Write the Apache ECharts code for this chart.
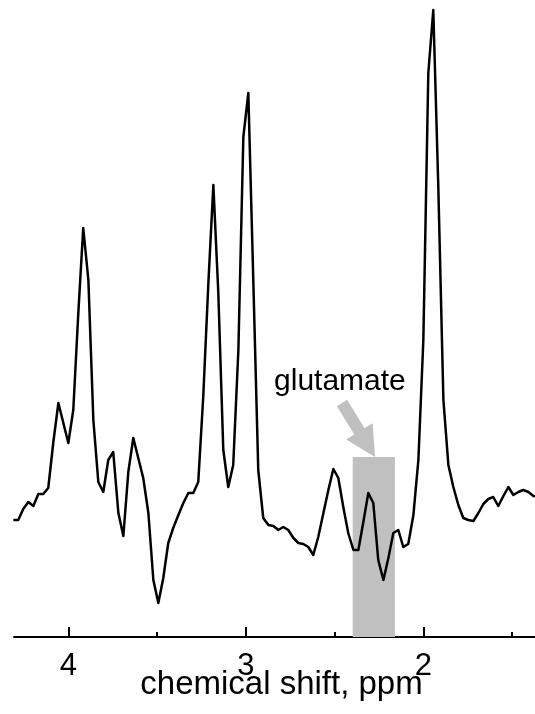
<!DOCTYPE html>
<html>
<head>
<meta charset="utf-8">
<script src="https://cdn.jsdelivr.net/npm/echarts@6/dist/echarts.min.js"></script>
<style>
  html, body { margin: 0; padding: 0; background: #ffffff; }
  #chart { width: 535px; height: 714px; }
</style>
</head>
<body>
<div id="chart"></div>
<script>
// chemical shift (ppm) of each sample
const ppm = [
  4.310, 4.282, 4.254, 4.225, 4.197, 4.169, 4.141, 4.113, 4.085, 4.056,
  4.028, 4.000, 3.972, 3.944, 3.916, 3.887, 3.859, 3.831, 3.803, 3.775,
  3.747, 3.718, 3.690, 3.662, 3.634, 3.606, 3.578, 3.549, 3.521, 3.493,
  3.465, 3.437, 3.409, 3.380, 3.352, 3.324, 3.296, 3.268, 3.240, 3.211,
  3.183, 3.155, 3.127, 3.099, 3.071, 3.042, 3.014, 2.986, 2.958, 2.930,
  2.902, 2.873, 2.845, 2.817, 2.789, 2.761, 2.732, 2.704, 2.676, 2.648,
  2.620, 2.592, 2.563, 2.535, 2.507, 2.479, 2.451, 2.423, 2.394, 2.366,
  2.338, 2.310, 2.282, 2.254, 2.225, 2.197, 2.169, 2.141, 2.113, 2.085,
  2.056, 2.028, 2.000, 1.972, 1.944, 1.916, 1.887, 1.859, 1.831, 1.803,
  1.775, 1.747, 1.718, 1.690, 1.662, 1.634, 1.606, 1.578, 1.549, 1.521,
  1.493, 1.465, 1.437, 1.408, 1.380, 1.352
];
// signal intensity (arbitrary units)
const intensity = [
  117, 117, 128, 135, 131, 143, 143, 149, 194, 234,
  214, 194, 227, 323, 409, 357, 217, 155, 145, 177,
  185, 124, 101, 165, 199, 179, 159, 124, 57, 34,
  59, 94, 109, 122, 134, 144, 144, 155, 240, 354,
  452, 344, 187, 150, 172, 287, 500, 544, 357, 167,
  119, 112, 111, 107, 110, 107, 99, 94, 93, 90,
  82, 100, 124, 147, 168, 159, 130, 104, 87, 87,
  115, 144, 134, 77, 57, 79, 104, 107, 90, 93,
  122, 177, 297, 564, 627, 452, 237, 172, 150, 132,
  119, 117, 116, 124, 133, 138, 140, 131, 141, 150,
  142, 145, 147, 145, 141, 140
];
const majorTicks = [4, 3, 2];
const minorTicks = [3.5, 2.5, 1.5];
const xRange = [1.371, 4.306];   // [min, max]; axis drawn inverted (high ppm on the left)
const yRange = [0, 637];
// highlighted glutamate region: [ppm from, ppm to, height]
const glutamateBand = [2.398, 2.160, 180];
const annotationText = 'glutamate';
const annotationPos = [2.47, 255];
const arrowTail = [2.458, 234];
const arrowTip = [2.272, 180];

const FONT = '"Liberation Sans", Arial, Helvetica, sans-serif';
const GRAY = '#c0c0c0';

const chart = echarts.init(document.getElementById('chart'), null, { renderer: 'canvas' });

const lineData = ppm.map((p, i) => [p, intensity[i]]);

function renderAnnotation(params, api) {
  const a = api.coord([glutamateBand[0], glutamateBand[2]]);
  const b = api.coord([glutamateBand[1], 0]);
  const t0 = api.coord(arrowTail);
  const t1 = api.coord(arrowTip);
  const dx = t1[0] - t0[0], dy = t1[1] - t0[1];
  const len = Math.sqrt(dx * dx + dy * dy);
  const ux = dx / len, uy = dy / len;
  const nx = -uy, ny = ux;
  const shaftHalf = 6, headHalf = 15.5, headLen = 30;
  const neck = [t1[0] - ux * headLen, t1[1] - uy * headLen];
  const pts = [
    [t0[0] + nx * shaftHalf, t0[1] + ny * shaftHalf],
    [neck[0] + nx * shaftHalf, neck[1] + ny * shaftHalf],
    [neck[0] + nx * headHalf, neck[1] + ny * headHalf],
    [t1[0], t1[1]],
    [neck[0] - nx * headHalf, neck[1] - ny * headHalf],
    [neck[0] - nx * shaftHalf, neck[1] - ny * shaftHalf],
    [t0[0] - nx * shaftHalf, t0[1] - ny * shaftHalf]
  ];
  const tp = api.coord(annotationPos);
  return {
    type: 'group',
    children: [
      { type: 'rect', shape: { x: Math.min(a[0], b[0]), y: a[1], width: Math.abs(b[0] - a[0]), height: b[1] - a[1] },
        style: { fill: GRAY } },
      { type: 'polygon', shape: { points: pts }, style: { fill: GRAY } },
      { type: 'text', x: tp[0], y: tp[1],
        style: { text: annotationText, fill: '#000', font: '30px ' + FONT,
                 align: 'center', verticalAlign: 'middle' } }
    ]
  };
}

const option = {
  animation: false,
  backgroundColor: '#ffffff',
  grid: { left: 14, right: 0, top: 0, bottom: 77, containLabel: false, outerBoundsMode: 'none' },
  xAxis: [
    {
      type: 'value', inverse: true, min: xRange[0], max: xRange[1],
      position: 'bottom',
      axisLine: { show: true, onZero: false, lineStyle: { color: '#000', width: 2 } },
      axisTick: { show: true, inside: true, length: 10, lineStyle: { color: '#000', width: 2 },
                  customValues: majorTicks },
      axisLabel: { show: true, customValues: majorTicks, margin: 14, color: '#000',
                   fontSize: 31, fontFamily: FONT },
      splitLine: { show: false },
      name: 'chemical shift, ppm', nameLocation: 'middle', nameGap: 31, nameMoveOverlap: false,
      nameTextStyle: { fontSize: 33, color: '#000', fontFamily: FONT, padding: [0, 0, 0, 14] }
    },
    {
      type: 'value', inverse: true, min: xRange[0], max: xRange[1],
      position: 'bottom',
      axisLine: { show: false, onZero: false },
      axisTick: { show: true, inside: true, length: 5, lineStyle: { color: '#000', width: 2 },
                  customValues: minorTicks },
      axisLabel: { show: false },
      splitLine: { show: false }
    }
  ],
  yAxis: { type: 'value', min: yRange[0], max: yRange[1], show: false },
  series: [
    {
      type: 'custom', z: 1, xAxisIndex: 0, renderItem: renderAnnotation,
      data: [[0, 0]], silent: true, clip: false
    },
    {
      type: 'line', z: 3, xAxisIndex: 0, data: lineData, showSymbol: false, smooth: false,
      lineStyle: { color: '#000', width: 2.5, join: 'round' }, clip: true
    }
  ]
};

chart.setOption(option);
</script>
</body>
</html>
